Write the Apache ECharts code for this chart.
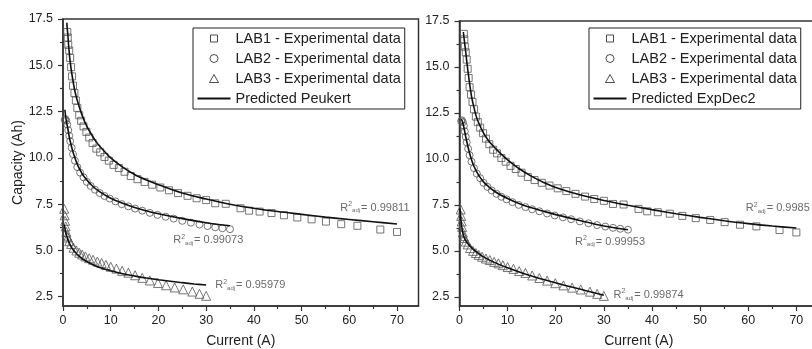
<!DOCTYPE html>
<html><head><meta charset="utf-8">
<script src="https://cdn.jsdelivr.net/npm/echarts@6/dist/echarts.min.js"></script>
<style>html,body{margin:0;padding:0;background:#fff}#c{width:812px;height:349px}</style>
</head><body><div id="c"></div>
<script>
// ---------- data ----------
const expNames = ['LAB1 - Experimental data', 'LAB2 - Experimental data', 'LAB3 - Experimental data'];
const fitNameLeft = 'Predicted Peukert';
const fitNameRight = 'Predicted ExpDec2';
const xTicks = [0, 10, 20, 30, 40, 50, 60, 70];
const xMinorTicks = [5, 15, 25, 35, 45, 55, 65];
const yTicks = [2.5, 5, 7.5, 10, 12.5, 15, 17.5];
const yMinorTicks = [3.75, 6.25, 8.75, 11.25, 13.75, 16.25];

// experimental data [current (A), capacity (Ah)]
const lab1Data = [[0.9,16.8],[1.0,16.5],[1.1,16.1],[1.3,15.8],[1.5,15.4],[1.7,14.9],[1.9,14.4],[2.1,13.9],[2.4,13.5],[2.7,13.1],[3.0,12.7],[3.4,12.3],[3.8,12.0],[4.3,11.7],[4.9,11.4],[5.5,11.1],[6.2,10.8],[7.0,10.5],[7.8,10.3],[8.7,10.05],[9.6,9.85],[10.6,9.62],[11.7,9.45],[12.9,9.25],[14.2,9.02],[15.6,8.85],[17.1,8.7],[18.7,8.55],[20.4,8.4],[22.2,8.25],[24.1,8.1],[26.1,7.95],[28.0,7.82],[30.0,7.72],[31.9,7.55],[34.1,7.52],[37.2,7.28],[39.0,7.15],[41.2,7.1],[43.7,7.02],[46.3,6.9],[49.1,6.78],[52.1,6.68],[55.1,6.56],[58.3,6.42],[61.7,6.33],[66.5,6.13],[70.0,6.0]];
const lab2Data = [[0.35,12.05],[0.5,12.1],[0.7,12.0],[0.9,11.8],[1.1,11.5],[1.3,11.2],[1.5,10.9],[1.8,10.55],[2.1,10.2],[2.5,9.85],[3.0,9.5],[3.6,9.2],[4.3,8.95],[5.0,8.7],[5.8,8.48],[6.7,8.28],[7.7,8.1],[8.7,7.94],[9.8,7.8],[11.0,7.65],[12.3,7.5],[13.7,7.38],[15.1,7.26],[16.6,7.15],[18.2,7.03],[19.8,6.92],[21.5,6.82],[23.2,6.72],[25.0,6.6],[26.8,6.5],[28.6,6.4],[30.3,6.32],[31.9,6.25],[33.4,6.2],[35.0,6.15]];
const lab3Data = [[0.25,7.25],[0.35,6.9],[0.45,6.6],[0.55,6.3],[0.7,6.0],[0.85,5.8],[1.0,5.7],[1.3,5.5],[1.7,5.35],[2.2,5.15],[2.8,5.0],[3.4,4.88],[4.0,4.78],[4.7,4.68],[5.5,4.58],[6.3,4.5],[7.2,4.4],[8.1,4.32],[9.0,4.22],[10.0,4.12],[11.2,4.02],[12.4,3.9],[13.7,3.8],[15.1,3.66],[16.6,3.52],[18.2,3.38],[19.9,3.24],[21.6,3.12],[23.4,3.0],[25.2,2.9],[27.1,2.78],[28.6,2.66],[30.0,2.55]];

// predicted curves
const peukert1 = [[0.8,17.3],[0.9,16.95],[1,16.7],[1.2,16.0],[1.5,15.2],[2,14.3],[2.5,13.6],[3,13.1],[4,12.3],[5,11.7],[6,11.25],[7,10.85],[8.5,10.4],[10,10.0],[12.5,9.5],[15,9.1],[17.5,8.8],[20,8.55],[25,8.1],[30,7.78],[35,7.5],[40,7.28],[45,7.1],[50,6.95],[55,6.8],[60,6.67],[65,6.55],[70,6.43]];
const peukert2 = [[0.4,12.6],[0.6,12.15],[0.8,11.85],[1,11.6],[1.3,11.15],[1.6,10.8],[2,10.4],[2.5,10.0],[3,9.65],[4,9.15],[5,8.8],[6,8.52],[7.5,8.2],[10,7.82],[12.5,7.55],[15,7.32],[17.5,7.14],[20,6.98],[25,6.72],[30,6.5],[35,6.33]];
const peukert3 = [[0.3,6.4],[0.5,6.05],[0.75,5.8],[1,5.6],[1.5,5.3],[2,5.08],[3,4.78],[4,4.56],[5,4.4],[6.5,4.2],[8,4.05],[10,3.9],[12.5,3.74],[15,3.62],[17.5,3.51],[20,3.42],[22.5,3.34],[25,3.26],[27.5,3.19],[30,3.13]];
const expdec1 = [[0.8,16.9],[1,16.45],[1.3,15.8],[1.6,15.1],[2,14.3],[2.5,13.4],[3,12.8],[3.5,12.3],[4,11.95],[5,11.4],[6,11.0],[7,10.7],[8.5,10.3],[10,9.95],[12.5,9.45],[15,9.05],[17.5,8.72],[20,8.45],[25,8.05],[30,7.74],[35,7.48],[40,7.24],[45,7.02],[50,6.82],[55,6.64],[60,6.48],[65,6.35],[70,6.24]];
const expdec2 = [[0.3,12.15],[0.5,12.1],[0.7,11.95],[1,11.6],[1.3,11.2],[1.6,10.85],[2,10.4],[2.5,9.95],[3,9.6],[4,9.1],[5,8.75],[6,8.5],[7.5,8.2],[10,7.85],[12.5,7.56],[15,7.34],[17.5,7.15],[20,6.97],[25,6.65],[30,6.35],[35,6.15]];
const expdec3 = [[0.1,7.3],[0.2,7.0],[0.3,6.7],[0.5,6.25],[0.8,5.85],[1.2,5.6],[2,5.3],[3,5.05],[4,4.85],[5,4.67],[7,4.4],[10,4.08],[13,3.8],[16,3.55],[19,3.33],[22,3.12],[25,2.92],[28,2.72],[30,2.58]];

const r2Peukert = ['0.99811', '0.99073', '0.95979'];
const r2ExpDec2 = ['0.9985', '0.99953', '0.99874'];

// ---------- layout / style ----------
const F = '"Liberation Sans", Arial, sans-serif';
const AX = '#333';
const r2AnchorsLeft = [[58.1, 7.32], [23.1, 5.55], [31.9, 3.12]];
const r2AnchorsRight = [[59.5, 7.31], [24.0, 5.5], [32.0, 2.6]];

function xAxesFor(gi) {
  return [{
    gridIndex: gi, type: 'value', min: 0, max: 74.5,
    name: 'Current (A)', nameLocation: 'middle', nameGap: 28,
    nameTextStyle: { fontSize: 14, color: '#222', fontFamily: F },
    axisLine: { onZero: false, lineStyle: { color: AX, width: 1.5 } },
    axisTick: { length: 5, customValues: xTicks, lineStyle: { color: AX, width: 1.2 } },
    axisLabel: { customValues: xTicks, margin: 8, fontSize: 12.5, color: '#222', fontFamily: F },
    splitLine: { show: false }
  }, {
    gridIndex: gi, type: 'value', min: 0, max: 74.5, position: 'bottom',
    axisLine: { show: false, onZero: false },
    axisTick: { length: 3, customValues: xMinorTicks, lineStyle: { color: AX, width: 1.2 } },
    axisLabel: { show: false }, splitLine: { show: false }
  }];
}
function yAxesFor(gi, withName) {
  return [{
    gridIndex: gi, type: 'value', min: 2, max: 17.5,
    name: withName ? 'Capacity (Ah)' : '', nameLocation: 'middle', nameGap: 38,
    nameTextStyle: { fontSize: 14, color: '#222', fontFamily: F },
    axisLine: { onZero: false, lineStyle: { color: AX, width: 1.5 } },
    axisTick: { length: 5, customValues: yTicks, lineStyle: { color: AX, width: 1.2 } },
    axisLabel: { customValues: yTicks, margin: 10, fontSize: 12.5, color: '#222', fontFamily: F,
      formatter: v => Number(v).toFixed(1) },
    splitLine: { show: false }
  }, {
    gridIndex: gi, type: 'value', min: 2, max: 17.5, position: 'left',
    axisLine: { show: false, onZero: false },
    axisTick: { length: 3, customValues: yMinorTicks, lineStyle: { color: AX, width: 1.2 } },
    axisLabel: { show: false }, splitLine: { show: false }
  }];
}

const symbols = ['rect', 'circle', 'triangle'];
const symSizes = [7, 7, 9];
const expSets = [lab1Data, lab2Data, lab3Data];

function seriesFor(gi, fitName, fits, r2vals, anchors) {
  const out = [];
  expSets.forEach((d, i) => {
    out.push({
      name: expNames[i], type: 'scatter', xAxisIndex: 2 * gi, yAxisIndex: 2 * gi,
      data: d, symbol: symbols[i], symbolSize: symSizes[i], z: 2,
      itemStyle: { color: 'rgba(255,255,255,0)', borderColor: '#555', borderWidth: 1 },
      emphasis: { disabled: true }, animation: false
    });
  });
  fits.forEach((d, i) => {
    out.push({
      name: fitName, type: 'line', xAxisIndex: 2 * gi, yAxisIndex: 2 * gi,
      data: d, symbol: 'none', smooth: 0.35, z: 3,
      lineStyle: { color: '#111', width: 1.6 }, itemStyle: { color: '#111' },
      emphasis: { disabled: true }, animation: false
    });
  });
  out.push({
    name: 'r2_' + gi, type: 'scatter', xAxisIndex: 2 * gi, yAxisIndex: 2 * gi,
    data: anchors.map((a, i) => [a[0], a[1], r2vals[i]]),
    symbolSize: 0, itemStyle: { color: 'rgba(0,0,0,0)' }, silent: true, animation: false,
    label: {
      show: true, position: 'right', distance: 0, fontSize: 11, color: '#444', fontFamily: F,
      formatter: p => 'R{sup|2}{sub|adj}= ' + p.value[2],
      rich: {
        sup: { fontSize: 7, color: '#444', fontFamily: F, padding: [0, 0, 7, 0] },
        sub: { fontSize: 6, color: '#444', fontFamily: F, padding: [6, 1, 0, 0] }
      }
    }
  });
  return out;
}

// legend icon paths: leading moveTo points fix the 33x8 icon box so the marker keeps its shape
const iconSquare = 'path://M0,0M33,8M13,0.5H20V7.5H13Z';
const iconTriangle = 'path://M0,0M33,8M16.5,0L21,8H12Z';
const iconLine = 'path://M0,0H33V2H0Z';

function legendFor(left, fitName) {
  const hollow = { color: 'rgba(255,255,255,0)', borderColor: '#222', borderWidth: 1 };
  return {
    left: left, top: 28, orient: 'vertical',
    data: [
      { name: expNames[0], icon: iconSquare, itemStyle: hollow },
      { name: expNames[1], icon: 'circle', itemStyle: hollow },
      { name: expNames[2], icon: iconTriangle, itemStyle: hollow },
      { name: fitName, icon: iconLine, itemStyle: { color: '#111', borderWidth: 0 } }
    ],
    symbolKeepAspect: true,
    itemWidth: 33, itemHeight: 8, itemGap: 5,
    padding: [3, 4, 3, 4],
    borderColor: '#222', borderWidth: 1, backgroundColor: '#fff',
    selectedMode: false,
    textStyle: { fontSize: 14.5, lineHeight: 14, color: '#222', fontFamily: F }
  };
}

const chart = echarts.init(document.getElementById('c'), null, { renderer: 'canvas' });
chart.setOption({
  backgroundColor: '#fff',
  animation: false,
  grid: [
    { left: 63, right: 393.5, top: 19, bottom: 43, show: true, borderColor: AX, borderWidth: 1.5,
      backgroundColor: 'transparent', containLabel: false, outerBoundsMode: 'none' },
    { left: 459.5, right: -6, top: 21, bottom: 43, show: true, borderColor: AX, borderWidth: 1.5,
      backgroundColor: 'transparent', containLabel: false, outerBoundsMode: 'none' }
  ],
  xAxis: [...xAxesFor(0), ...xAxesFor(1)],
  yAxis: [...yAxesFor(0, true), ...yAxesFor(1, false)],
  legend: [legendFor(193, fitNameLeft), legendFor(589, fitNameRight)],
  series: [
    ...seriesFor(0, fitNameLeft, [peukert1, peukert2, peukert3], r2Peukert, r2AnchorsLeft),
    ...seriesFor(1, fitNameRight, [expdec1, expdec2, expdec3], r2ExpDec2, r2AnchorsRight)
  ]
});
</script>
</body></html>
